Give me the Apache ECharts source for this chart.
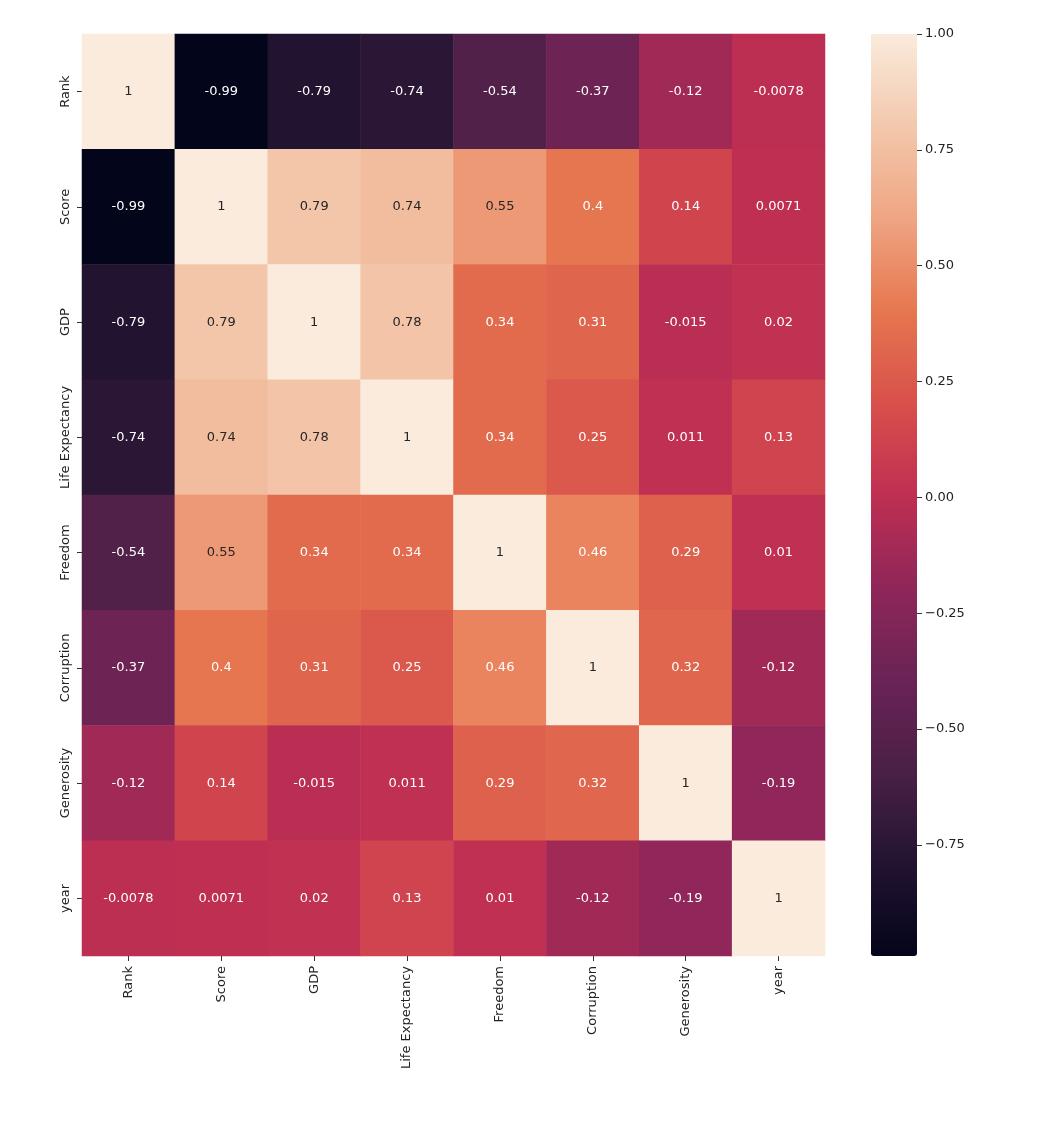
<!DOCTYPE html>
<html><head><meta charset="utf-8">
<script src="https://cdn.jsdelivr.net/npm/echarts@6/dist/echarts.min.js"></script>
<style>html,body{margin:0;background:#fff}#c{width:1046px;height:1128px}</style>
</head><body><div id="c"></div>
<script>
const labels = ['Rank','Score','GDP','Life Expectancy','Freedom','Corruption','Generosity','year'];
const matrix = [
 [1,-0.99,-0.79,-0.74,-0.54,-0.37,-0.12,-0.0078],
 [-0.99,1,0.79,0.74,0.55,0.4,0.14,0.0071],
 [-0.79,0.79,1,0.78,0.34,0.31,-0.015,0.02],
 [-0.74,0.74,0.78,1,0.34,0.25,0.011,0.13],
 [-0.54,0.55,0.34,0.34,1,0.46,0.29,0.01],
 [-0.37,0.4,0.31,0.25,0.46,1,0.32,-0.12],
 [-0.12,0.14,-0.015,0.011,0.29,0.32,1,-0.19],
 [-0.0078,0.0071,0.02,0.13,0.01,-0.12,-0.19,1]
];
const cbTicks = [1.0,0.75,0.5,0.25,0,-0.25,-0.5,-0.75];
const vMin = -0.99, vMax = 1.0;
const rocket = ['#03051A','#221331','#4A2046','#6A2355','#8F2659','#BF2F52','#D8504B','#E6774F','#EFA583','#F3C8AC','#FAEBDD'];
const font = 'DejaVu Sans';
const data = [];
matrix.forEach((row,r)=>row.forEach((v,c)=>{
  data.push({value:[c,r,v], label:{color: v>0.5?'#262626':'#ffffff'}});
}));
const fmt = v => (v<0?'\u2212':'') + Math.abs(v).toFixed(2);
const chart = echarts.init(document.getElementById('c'));
chart.setOption({
  animation:false,
  textStyle:{fontFamily:font},
  grid:[{left:82,top:34,width:743,height:922},{left:871,top:34,width:46,height:922}],
  xAxis:[
    {type:'category',data:labels,gridIndex:0,axisLine:{show:false},axisTick:{show:true,length:5,lineStyle:{color:'#333'},alignWithLabel:true},
     axisLabel:{interval:0,rotate:90,color:'#222',fontSize:13,fontFamily:font,margin:10},splitLine:{show:false}},
    {type:'category',data:[''],gridIndex:1,show:false}
  ],
  yAxis:[
    {type:'category',data:labels,inverse:true,gridIndex:0,axisLine:{show:false},axisTick:{show:true,length:5,lineStyle:{color:'#333'},alignWithLabel:true},
     axisLabel:{interval:0,rotate:90,color:'#222',fontSize:13,fontFamily:font,margin:10},splitLine:{show:false}},
    {type:'value',gridIndex:1,position:'right',min:vMin,max:vMax,axisLine:{show:false},splitLine:{show:false},
     axisTick:{show:true,length:5,lineStyle:{color:'#333'},customValues:cbTicks},
     axisLabel:{color:'#222',fontSize:13,fontFamily:font,margin:8,customValues:cbTicks,formatter:fmt}}
  ],
  visualMap:{type:'continuous',min:vMin,max:vMax,calculable:false,left:871,top:34,itemWidth:46,itemHeight:922,
    padding:0,text:['',''],itemGap:0,inRange:{color:rocket},seriesIndex:0,showLabel:false},
  series:[{type:'heatmap',xAxisIndex:0,yAxisIndex:0,data:data,
    label:{show:true,fontSize:13,fontFamily:font,formatter:p=>{const v=p.value[2];return (v<0?'-':'')+String(Math.abs(v));}},
    itemStyle:{borderWidth:0}}]
});
</script></body></html>
